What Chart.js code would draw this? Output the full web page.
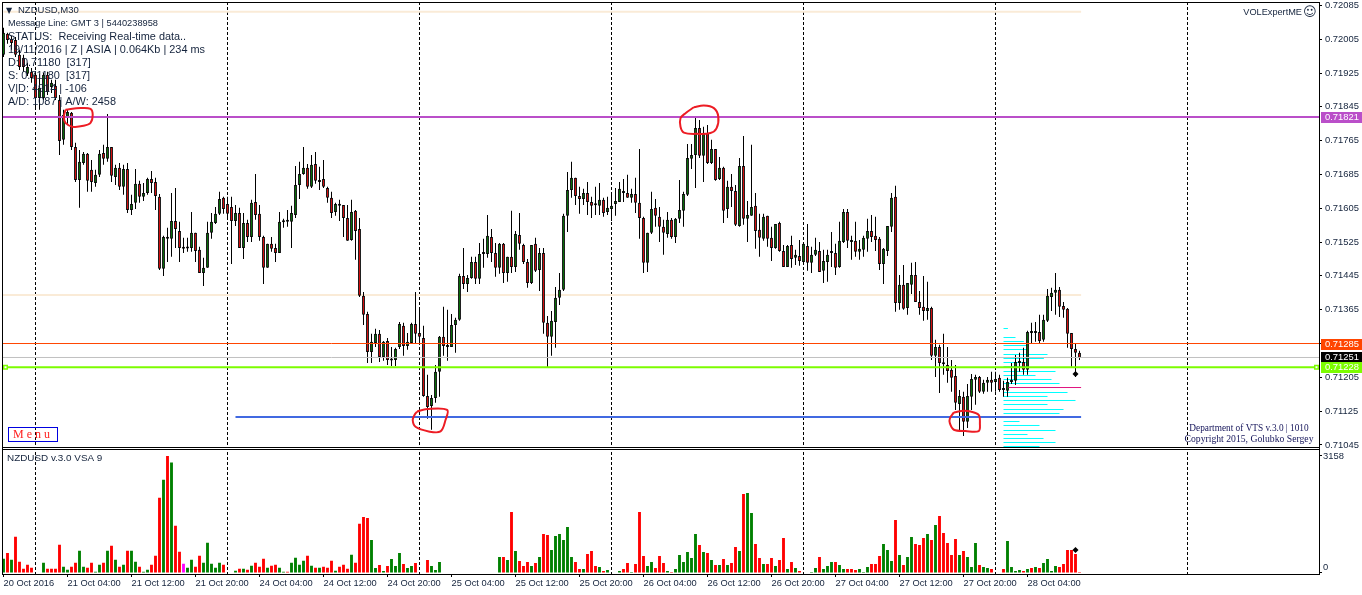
<!DOCTYPE html>
<html><head><meta charset="utf-8">
<style>html,body{margin:0;padding:0;background:#fff}canvas{display:block}</style>
<script src="https://cdn.jsdelivr.net/npm/chart.js@4/dist/chart.umd.min.js"></script>
</head><body><canvas id="c" width="1362" height="595"></canvas>
<script>
// Prices in 1e-5 units (points), one entry per 30-minute bar
const opens=[71968,72018,72006,72003,71968,71961,71923,71928,71921,71866,
71866,71921,71892,71895,71861,71767,71821,71831,71750,71672,
71712,71734,71696,71665,71684,71736,71722,71750,71679,71701,
71656,71698,71601,71618,71663,71632,71641,71674,71667,71632,
71462,71537,71533,71575,71551,71511,71511,71511,71547,71507,
71452,71464,71547,71570,71592,71630,71615,71608,71575,71594,
71511,71570,71537,71620,71592,71537,71464,71521,71511,71499,
71573,71573,71573,71589,71660,71686,71701,71656,71710,71667,
71674,71653,71630,71596,71613,71613,71582,71530,71599,71556,
71398,71355,71265,71286,71308,71253,71291,71246,71246,71277,
71327,71279,71286,71331,71310,71298,71161,71137,71156,71218,
71301,71279,71277,71329,71341,71445,71426,71440,71478,71438,
71499,71497,71537,71499,71464,71521,71452,71490,71466,71542,
71518,71478,71428,71521,71459,71499,71334,71301,71336,71393,
71412,71587,71648,71677,71634,71627,71641,71620,71613,71611,
71625,71596,71603,71615,71620,71642,71641,71630,71639,71618,
71582,71476,71547,71606,71585,71561,71544,71578,71537,71580,
71599,71637,71722,71731,71795,71729,71783,71712,71745,71674,
71701,71603,71656,71646,71563,71705,71580,71587,71611,71554,
71533,71587,71535,71511,71570,71504,71466,71518,71488,71492,
71478,71516,71476,71495,71504,71457,71478,71500,71499,71466,
71525,71596,71525,71528,71502,71507,71533,71551,71540,71533,
71473,71504,71561,71632,71381,71424,71369,71424,71447,71383,
71372,71362,71369,71256,71277,71237,71234,71223,71208,71142,
71159,71100,71159,71199,71206,71171,71192,71199,71194,71204,
71176,71173,71194,71197,71241,71241,71223,71312,71310,71312,
71294,71339,71395,71405,71412,71374,71367,71310,71272,71263];
const highs=[72032,72020,72013,72010,71980,71968,71949,71937,71928,71923,
71925,71928,71909,71909,71873,71838,71838,71833,71760,71743,
71738,71736,71719,71696,71743,71755,71828,71750,71708,71712,
71708,71712,71637,71698,71670,71665,71677,71693,71677,71639,
71540,71559,71641,71653,71573,71535,71535,71596,71547,71514,
71488,71573,71594,71608,71644,71632,71632,71632,71613,71606,
71594,71578,71625,71686,71613,71540,71521,71537,71521,71596,
71580,71601,71611,71705,71715,71750,71710,71731,71738,71703,
71719,71656,71644,71618,71625,71613,71613,71625,71601,71582,
71407,71360,71308,71320,71317,71291,71298,71277,71275,71336,
71334,71310,71334,71407,71369,71327,71211,71163,71234,71303,
71372,71365,71355,71346,71450,71511,71447,71490,71490,71523,
71533,71589,71556,71523,71523,71523,71490,71599,71551,71594,
71521,71485,71518,71535,71511,71511,71350,71362,71419,71452,
71592,71691,71715,71677,71656,71651,71667,71632,71656,71665,
71630,71632,71641,71653,71667,71674,71684,71651,71677,71745,
71585,71547,71644,71627,71608,71578,71596,71582,71582,71672,
71644,71757,71757,71819,71814,71798,71802,71767,71745,71726,
71703,71670,71686,71660,71724,71776,71622,71755,71641,71592,
71592,71587,71561,71568,71573,71518,71518,71540,71507,71530,
71523,71568,71514,71535,71525,71507,71507,71549,71521,71573,
71603,71603,71540,71573,71530,71540,71580,71589,71585,71537,
71511,71563,71641,71658,71447,71471,71428,71476,71478,71409,
71445,71431,71372,71294,71282,71308,71277,71246,71234,71175,
71171,71189,71213,71211,71208,71199,71206,71218,71218,71211,
71197,71204,71239,71258,71263,71275,71315,71334,71336,71353,
71353,71414,71417,71452,71419,71383,71369,71310,71286,71268];
const lows=[71963,71994,71980,71963,71932,71928,71918,71902,71838,71838,
71861,71873,71878,71861,71731,71755,71802,71743,71667,71606,
71708,71644,71644,71656,71679,71708,71715,71667,71660,71648,
71637,71594,71589,71603,71618,71622,71637,71641,71601,71459,
71445,71478,71490,71511,71478,71499,71502,71502,71478,71452,
71421,71464,71533,71568,71589,71592,71580,71473,71563,71511,
71485,71525,71525,71578,71528,71426,71464,71502,71478,71499,
71559,71561,71511,71582,71627,71684,71651,71653,71663,71648,
71653,71618,71582,71587,71575,71537,71528,71528,71483,71395,
71329,71239,71239,71277,71241,71244,71234,71232,71232,71272,
71256,71270,71286,71286,71282,71159,71107,71081,71145,71159,
71256,71244,71277,71263,71339,71414,71407,71438,71426,71426,
71464,71488,71478,71443,71450,71428,71431,71452,71454,71507,
71473,71417,71426,71454,71409,71308,71227,71256,71275,71376,
71409,71549,71630,71613,71592,71613,71589,71582,71589,71589,
71585,71589,71575,71587,71620,71620,71630,71618,71594,71533,
71452,71454,71544,71561,71525,71495,71535,71533,71523,71570,
71561,71634,71698,71653,71724,71667,71710,71710,71670,71672,
71570,71582,71608,71563,71561,71566,71525,71587,71509,71490,
71528,71514,71480,71509,71502,71466,71466,71464,71471,71469,
71478,71457,71452,71492,71454,71428,71431,71466,71447,71464,
71523,71511,71483,71490,71483,71490,71502,71525,71504,71459,
71426,71492,71549,71360,71365,71365,71353,71402,71383,71353,
71339,71341,71246,71206,71168,71211,71192,71171,71128,71078,
71066,71085,71128,71140,71168,71166,71171,71171,71171,71171,
71159,71159,71189,71187,71218,71211,71211,71284,71289,71284,
71289,71336,71362,71353,71348,71346,71275,71230,71206,71246];
const closes=[72020,72003,71996,71968,71939,71939,71939,71913,71866,71890,
71921,71880,71902,71866,71764,71826,71833,71750,71672,71715,
71734,71670,71667,71684,71734,71722,71750,71682,71701,71656,
71698,71601,71615,71663,71632,71641,71674,71665,71634,71462,
71537,71533,71575,71556,71511,71509,71510,71547,71504,71452,
71464,71547,71573,71592,71627,71603,71592,71575,71594,71511,
71570,71537,71618,71589,71537,71464,71521,71509,71499,71573,
71572,71573,71594,71660,71686,71701,71656,71708,71670,71672,
71656,71630,71594,71615,71611,71582,71528,71596,71551,71398,
71353,71265,71289,71308,71253,71289,71246,71245,71272,71331,
71279,71289,71331,71308,71301,71161,71135,71156,71218,71301,
71279,71277,71329,71341,71445,71426,71440,71478,71438,71497,
71497,71540,71499,71464,71521,71452,71490,71466,71544,71521,
71478,71428,71518,71457,71499,71334,71301,71339,71393,71412,
71587,71648,71677,71634,71627,71641,71620,71611,71612,71625,
71594,71606,71611,71622,71651,71641,71630,71639,71618,71582,
71476,71547,71603,71587,71561,71547,71578,71537,71580,71601,
71639,71724,71731,71795,71729,71783,71712,71745,71672,71701,
71599,71656,71646,71566,71705,71580,71589,71608,71551,71535,
71585,71533,71511,71568,71504,71466,71516,71485,71495,71480,
71521,71476,71495,71507,71454,71480,71495,71499,71464,71528,
71596,71528,71530,71502,71509,71535,71551,71537,71530,71473,
71509,71563,71630,71381,71424,71367,71428,71447,71383,71369,
71362,71369,71256,71277,71239,71236,71220,71204,71145,71161,
71100,71161,71201,71206,71171,71192,71199,71192,71201,71175,
71175,71194,71199,71241,71239,71223,71312,71310,71312,71291,
71341,71398,71405,71412,71372,71365,71308,71272,71263,71251];
const volumes=[387,540,360,981,306,117,225,144,0,0,
279,117,117,117,765,171,90,171,279,603,
171,144,279,36,225,279,603,738,360,171,
225,603,603,306,171,36,90,225,468,2034,
2520,3158,2979,1278,576,252,144,360,171,468,
279,819,252,144,279,225,0,0,63,117,
117,90,198,279,171,387,144,198,225,144,
36,36,279,414,225,333,468,198,144,144,
171,144,333,63,171,225,117,495,279,1332,
1512,1485,891,135,216,54,189,378,189,540,
243,135,189,270,0,0,351,189,81,297,
0,0,0,0,0,0,0,0,0,0,
0,0,0,0,432,432,351,1647,594,324,
189,297,189,270,432,1053,1026,621,999,1053,
891,1242,432,297,108,108,513,594,189,162,
54,81,0,0,54,108,270,27,243,1647,
459,189,297,135,459,270,54,27,108,486,
297,567,405,1053,756,567,540,351,216,216,
378,216,270,702,594,2133,2160,1620,783,405,
243,243,405,189,351,945,108,297,135,54,
0,0,27,135,432,108,189,297,297,216,
108,108,108,81,108,27,162,243,243,459,
783,621,324,1431,486,216,432,972,783,756,
945,1053,891,1296,1539,1080,810,486,918,486,
594,432,162,810,216,162,135,108,0,0,
108,864,162,54,81,54,108,135,162,135,
270,378,54,189,162,243,621,621,513,27];
// U = rising volume bar, D = falling, S = signal bar
const volumeKinds=("UDUDDDDDUU"+"UDDDDUUDDU"+"UDDUUDUDUD"+"UDUUDUUDDD"+"UDUDDSUUDD"+"UUUUUDUUUD"+"UDUDDDUDDU"+"UDUUUUDUDU"+"DDDUDDDUDD"+"DDUUDUDUUU"+"DUUDUUDUUU"+"UUUUUUUUUU"+"UUUUUDUDUD"+"DDUDUDDUUU"+"UUUDDUDDDU"+"DUUUUDDUDD"+"DUUDDDUDUU"+"UUUUDUDUDU"+"DUDDUDUUDD"+"UDDUDDUDUD"+"UUUUDUUUDU"+"UDDDUUUDDD"+"UUUDUDUUDD"+"DUDUDDDDDU"+"DUUUDUUDUU"+"DUUUUDUDUD"+"UUUUDDDDDD").split("");

const timeTickBars=[0,16,32,48,64,80,96,112,128,144,160,176,192,208,224,240,256];
const timeTickLabels=["20 Oct 2016","21 Oct 04:00","21 Oct 12:00","21 Oct 20:00","24 Oct 04:00","24 Oct 12:00","24 Oct 20:00","25 Oct 04:00","25 Oct 12:00","25 Oct 20:00","26 Oct 04:00","26 Oct 12:00","26 Oct 20:00","27 Oct 04:00","27 Oct 12:00","27 Oct 20:00","28 Oct 04:00"];
const daySeparatorBars=[8,56,104,152,200,248,296];
const priceTicks=[0.72085,0.72005,0.71925,0.71845,0.71765,0.71685,0.71605,0.71525,0.71445,0.71365,0.71285,0.71205,0.71125,0.71045];
const volumeTicks=[3158,0];

// Horizontal levels
const purpleLevel=0.71821, orangeLevel=0.71285, greyLevel=0.71252, greenLevel=0.71229, blueLevel=0.71111;
const beigeLevels=[0.72070,0.71400];
const pocLevel=0.711809;
// Axis price flags
const flagTexts=["0.71821","0.71285","0.71251","0.71228"];
const flagValues=[purpleLevel,orangeLevel,greyLevel,greenLevel];
const flagColors=["#ba4fc9","#ff4500","#000000","#7cfc00"];

// Volume profile: price level and length in bars
const profilePrices=[.713205,.712992,.712898,.712803,.712708,.712590,.712496,.712401,.712306,.712188,.712093,.711999,.711904,.711691,.711597,.711502,.711407,.711289,.711194,.711005,.710911,.710792,.710697,.710603,.710508,.710414];
const profileLengths=[1.1,3,5.1,5.75,5.9,11,10.1,6.1,6,13,8,12,14,16,11,18,11,15,14,4,9,13,6,10,13,9];

// Hand-drawn red circles: [bar, price]
const circleA=[[15.5,.71838],[19.25,.71842],[21.75,.71840],[22.3,.71826],[21.75,.71807],[20,.71800],[17.25,.71798],[15.5,.71807],[15.1,.71821],[15.5,.71838]];
const circleB=[[103.4,.71124],[105.9,.71130],[110.9,.71128],[110.5,.71104],[109.25,.71077],[106.3,.71077],[103,.71088],[102.3,.71104],[102.75,.71116],[103.4,.71124]];
const circleC=[[172.6,.71844],[175.1,.71848],[177.6,.71842],[178.7,.71822],[178.25,.71794],[176.75,.71783],[173.4,.71781],[170.1,.71784],[169.25,.71798],[169.25,.71818],[170.5,.71830],[172.6,.71844]];
const circleD=[[237.6,.71122],[240.1,.71126],[241.75,.71124],[243.8,.71116],[244.1,.71096],[243.8,.71078],[240.5,.71078],[237.6,.71081],[236.6,.71096],[236.6,.71108],[237.6,.71122]];

const statusLines=["Message Line: GMT 3 | 5440238958","STATUS:  Receiving Real-time data..","19/11/2016 | Z | ASIA | 0.064Kb | 234 ms","D: 0.71180  [317]","S: 0.71180  [317]","V|D: 4914 | -106","A/D: 1087 | A/W: 2458"];
const symbolTitle="NZDUSD,M30", volumeTitle="NZDUSD v.3.0 VSA 9", expertName="VOLExpertME", creditLines=["Department of VTS v.3.0 | 1010","Copyright 2015, Golubko Sergey"], menuLabel="M e n u";

const P=v=>v/100000;
const bars=opens.map((_,i)=>i);
const X0=-0.375,X1=329.125,LAST=269,PROFILE_START=250;
const hline=(y,a,b,color,w,order)=>({type:'line',xAxisID:'x',yAxisID:'yP',data:[{x:a,y},{x:b,y}],borderColor:color,borderWidth:w,pointRadius:0,order});
const circle=pts=>({type:'line',xAxisID:'x',yAxisID:'yP',data:pts.map(p=>({x:p[0],y:p[1]})),borderColor:'#ed1c24',borderWidth:2,pointRadius:0,tension:0.35,order:0});
const profileData=[];
profilePrices.forEach((p,i)=>{profileData.push({x:PROFILE_START,y:p},{x:PROFILE_START+profileLengths[i],y:p},{x:PROFILE_START,y:null});});
const noPad=s=>{s.paddingTop=0;s.paddingBottom=0;s.paddingLeft=0;s.paddingRight=0;};

const overlay={id:'overlay',afterDraw(ch){
 const c=ch.ctx,yP=ch.scales.yP,a=ch.chartArea;
 c.save();
 // frame
 c.fillStyle='#000';
 c.fillRect(a.left,a.top,a.right-a.left,1);
 c.fillRect(a.left,a.top,1,a.bottom-a.top);
 c.fillRect(a.right-1,a.top,1,a.bottom-a.top+1);
 c.fillRect(a.left,a.bottom,a.right-a.left,1);
 const g=Math.floor(yP.bottom);
 c.fillStyle='#fff';c.fillRect(a.left+1,g,a.right-a.left-2,2);
 c.fillStyle='#000';
 c.fillRect(a.left,g,a.right-a.left,1);
 c.fillRect(a.left,g+2,a.right-a.left,1);
 // price flags
 c.textBaseline='middle';c.textAlign='left';
 flagValues.forEach((v,i)=>{
  const y=Math.round(yP.getPixelForValue(v));
  c.fillStyle=flagColors[i];c.fillRect(1321,y-5,41,11);
  c.fillStyle='#fff';c.font='9.4px "Liberation Sans"';c.fillText(flagTexts[i],1325,y+0.5);
 });
 // title + status
 c.fillStyle='#14233c';
 c.font='9.5px "Liberation Sans"';c.fillText(symbolTitle,18,10.5);
 c.font='8px "DejaVu Sans"';c.fillText('\u25BC',6,10.5);
 const fonts=['9.25px','10.9px','10.9px','10.9px','10.9px','10.9px','10.9px'];
 statusLines.forEach((t,i)=>{c.font=fonts[i]+' "Liberation Sans"';c.fillText(t,8,23.5+i*13);});
 c.font='9.9px "Liberation Sans"';c.fillText(volumeTitle,7,458.5);
 c.textAlign='right';c.font='9.2px "Liberation Sans"';c.fillText(expertName,1302,12.5);
 c.font='13px "DejaVu Sans"';c.textAlign='left';c.fillText('\u263A',1303,12.5);
 c.textAlign='center';
 c.fillStyle='#14145a';c.font='9.3px "Liberation Serif"';c.fillText(creditLines[0],1249,428.5);
 c.font='9.7px "Liberation Serif"';c.fillText(creditLines[1],1249,439.5);
 // menu button
 c.strokeStyle='#0000e0';c.lineWidth=1;c.strokeRect(8.5,427.5,49,14);
 c.fillStyle='#ff2020';c.font='12px "Liberation Serif"';c.textAlign='left';c.fillText(menuLabel,13,435);
 c.restore();
}};

new Chart(document.getElementById('c'),{
 data:{datasets:[
  {type:'bar',label:'wick',xAxisID:'x',yAxisID:'yP',data:bars.map(i=>({x:i,y:[P(lows[i]),P(highs[i])]})),backgroundColor:'#000',borderWidth:0,grouped:false,maxBarThickness:1,order:5},
  {type:'bar',label:'body',xAxisID:'x',yAxisID:'yP',data:bars.map(i=>({x:i,y:[P(opens[i]),P(closes[i])]})),backgroundColor:bars.map(i=>closes[i]>=opens[i]?'#0a7a0a':'#ee1111'),borderColor:'#000',borderWidth:1,borderSkipped:false,grouped:false,maxBarThickness:3,minBarLength:2,order:4},
  {type:'bar',label:'volume',xAxisID:'x',yAxisID:'yV',data:bars.map(i=>({x:i,y:volumes[i]})),backgroundColor:bars.map(i=>volumeKinds[i]==='U'?'#008000':volumeKinds[i]==='D'?'#ff0000':'#ff00ff'),borderWidth:0,grouped:false,maxBarThickness:3,order:4},
  hline(beigeLevels[0],0,LAST+0.4,'#faebd7',2,8),
  hline(beigeLevels[1],-0.375,LAST+0.4,'#faebd7',2,8),
  {type:'line',label:'profile',xAxisID:'x',yAxisID:'yP',data:profileData,borderColor:'#00ffff',borderWidth:1,pointRadius:0,spanGaps:false,order:6},
  hline(orangeLevel,X0,X1,'#ff4500',1,3),
  hline(greyLevel,X0,X1,'#c0c0c0',1,3),
  hline(pocLevel,251.2,LAST+0.4,'#e0147f',1,3),
  hline(purpleLevel,X0,X1,'#ba4fc9',2,2),
  hline(blueLevel,58,LAST+0.4,'#4169e1',2,2),
  {type:'line',label:'green level',xAxisID:'x',yAxisID:'yP',data:[{x:X0,y:greenLevel},{x:0.5,y:greenLevel},{x:328.25,y:greenLevel},{x:X1,y:greenLevel}],borderColor:'#7cfc00',borderWidth:2,pointStyle:'rect',pointRadius:[0,2.5,2.5,0],pointBackgroundColor:'#fff',pointBorderColor:'#7cfc00',pointBorderWidth:1.5,order:2},
  circle(circleA),circle(circleB),circle(circleC),circle(circleD),
  {type:'line',label:'price mark',xAxisID:'x',yAxisID:'yP',data:[{x:268,y:0.71213}],showLine:false,pointStyle:'rectRot',pointRadius:3,pointBackgroundColor:'#000',pointBorderColor:'#000',pointBorderWidth:0,order:0},
  {type:'line',label:'volume mark',xAxisID:'x',yAxisID:'yV',data:[{x:268,y:621}],showLine:false,pointStyle:'rectRot',pointRadius:3,pointBackgroundColor:'#000',pointBorderColor:'#000',pointBorderWidth:0,order:0}
 ]},
 options:{
  responsive:false,animation:false,events:[],
  layout:{autoPadding:false,padding:{left:2,top:2,right:0,bottom:0}},
  plugins:{legend:{display:false},tooltip:{enabled:false},title:{display:false}},
  scales:{
   x:{type:'linear',position:'bottom',offset:false,min:X0,max:X1,
    afterBuildTicks(s){s.ticks=timeTickBars.map(v=>({value:v}));},
    afterFit(s){s.height=21;noPad(s);},
    grid:{offset:false,drawOnChartArea:false,drawTicks:true,tickLength:3,color:'#000'},
    border:{display:false},
    ticks:{autoSkip:false,maxRotation:0,align:'start',padding:1,color:'#14233c',font:{family:'"Liberation Sans"',size:9.3},
     callback(v){return timeTickLabels[timeTickBars.indexOf(v)];}}},
   x2:{type:'linear',position:'top',offset:false,min:X0,max:X1,
    afterBuildTicks(s){s.ticks=daySeparatorBars.map(v=>({value:v}));},
    afterFit(s){s.height=0;noPad(s);},
    grid:{offset:false,drawOnChartArea:true,drawTicks:false,color:'#000',lineWidth:1},
    border:{display:false,dash:[3,2]},
    ticks:{display:false}},
   yP:{type:'linear',position:'right',stack:'panes',stackWeight:445.5,weight:1,min:0.71039,max:0.72093,
    afterBuildTicks(s){s.ticks=priceTicks.map(v=>({value:v}));},
    afterFit(s){s.width=42;noPad(s);},
    grid:{drawOnChartArea:false,drawTicks:true,tickLength:2,color:'#000'},
    border:{display:false},
    ticks:{autoSkip:false,padding:3,color:'#14233c',font:{family:'"Liberation Sans"',size:9.4},callback(v){return v.toFixed(5);}}},
   yV:{type:'linear',position:'right',stack:'panes',stackWeight:126.5,weight:2,min:-27,max:3387,
    afterBuildTicks(s){s.ticks=volumeTicks.map(v=>({value:v}));},
    afterFit(s){s.width=42;noPad(s);},
    grid:{drawOnChartArea:false,drawTicks:true,tickLength:2,color:'#000'},
    border:{display:false},
    ticks:{autoSkip:false,padding:1,color:'#14233c',font:{family:'"Liberation Sans"',size:9.4},callback(v){return v===0?['0','']:String(v);}}}
  }
 },
 plugins:[overlay]
});
</script></body></html>
